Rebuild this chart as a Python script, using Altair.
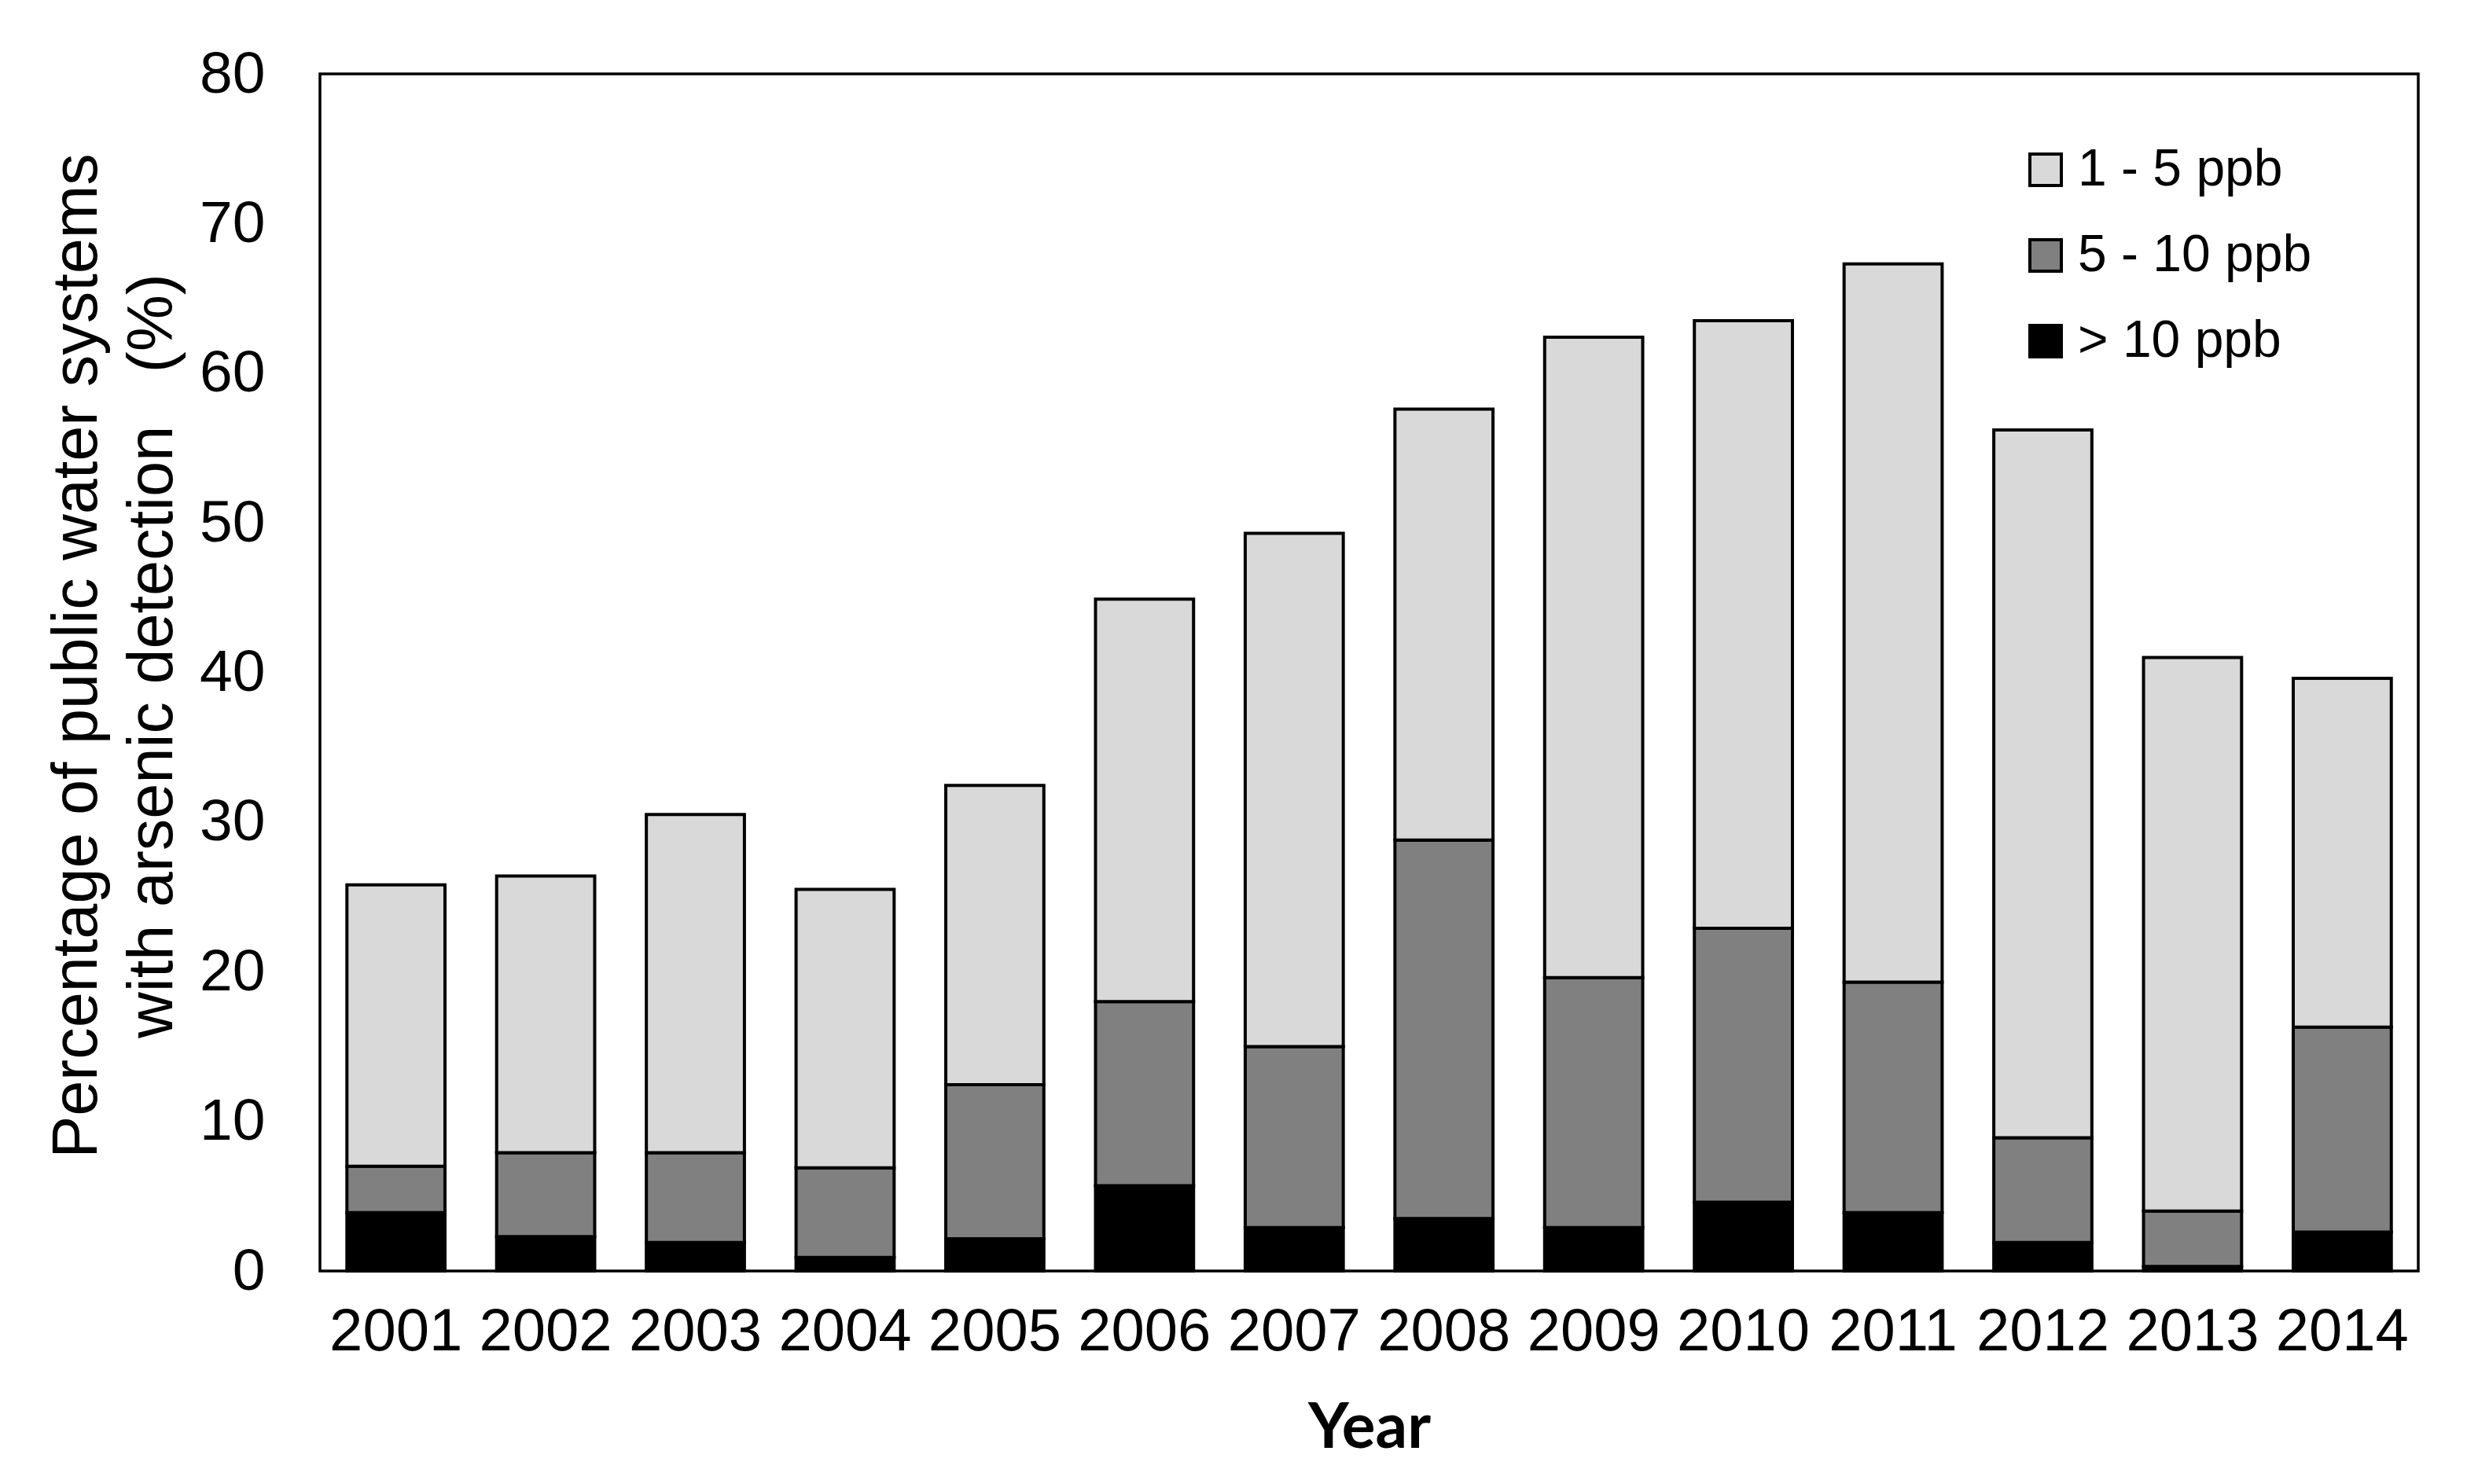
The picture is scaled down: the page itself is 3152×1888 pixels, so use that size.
import altair as alt
import pandas as pd

years = ["2001", "2002", "2003", "2004", "2005", "2006", "2007",
         "2008", "2009", "2010", "2011", "2012", "2013", "2014"]
over_10 = [3.9, 2.3, 1.9, 0.9, 2.15, 5.7, 2.9, 3.5, 2.9, 4.6, 3.9, 1.9, 0.3, 2.6]
from_5_to_10 = [3.1, 5.6, 6.0, 6.0, 10.3, 12.3, 12.1, 25.3, 16.7, 18.3, 15.4, 7.0, 3.7, 13.7]
from_1_to_5 = [18.8, 18.5, 22.6, 18.6, 20.0, 26.9, 34.3, 28.8, 42.8, 40.6, 48.0, 47.3, 37.0, 23.3]

series_names = ["1 - 5 ppb", "5 - 10 ppb", "> 10 ppb"]
series_colors = ["#d9d9d9", "#808080", "#000000"]
stack_rank = {"> 10 ppb": 0, "5 - 10 ppb": 1, "1 - 5 ppb": 2}

rows = []
for name, vals in [("> 10 ppb", over_10), ("5 - 10 ppb", from_5_to_10), ("1 - 5 ppb", from_1_to_5)]:
    for y, v in zip(years, vals):
        rows.append({"Year": y, "series": name, "value": v, "rank": stack_rank[name]})
df = pd.DataFrame(rows)

FONT = "Liberation Sans"

chart = alt.Chart(df).mark_bar(stroke="black", strokeWidth=4).encode(
    x=alt.X("Year:N", sort=years,
            scale=alt.Scale(paddingInner=0.345, paddingOuter=0.18),
            axis=alt.Axis(title="Year", labelAngle=0, labelFontSize=76, labelFont=FONT,
                          labelColor="black", ticks=False, domain=False, labelPadding=40,
                          titleFont="Lato", titleFontWeight="bold", titleFontSize=80,
                          titleColor="black", titlePadding=46)),
    y=alt.Y("value:Q", stack="zero",
            scale=alt.Scale(domain=[0, 80], nice=False),
            axis=alt.Axis(title=["Percentage of public water systems",
                                 "with arsenic detection\u00a0\u00a0 (%)"],
                          values=list(range(0, 81, 10)), labelFontSize=75, labelFont=FONT,
                          labelColor="black", ticks=False, domain=False, grid=False,
                          labelPadding=70, titleFont=FONT, titleFontSize=81,
                          titleFontWeight="normal", titleColor="black",
                          titleLineHeight=96, titlePadding=18, titleY=740)),
    color=alt.Color("series:N",
                    scale=alt.Scale(domain=series_names, range=series_colors),
                    legend=alt.Legend(title=None, orient="none", legendX=2162, legendY=89,
                                      symbolType="square", symbolSize=1600,
                                      symbolStrokeColor="black", symbolStrokeWidth=4,
                                      labelFontSize=66, labelFont=FONT, labelColor="black",
                                      labelLimit=1000,
                                      labelOffset=8, rowPadding=43, padding=0)),
    order=alt.Order("rank:Q", sort="ascending"),
).properties(
    width=2669, height=1523,
    background="white",
    autosize=alt.AutoSizeParams(type="none"),
    padding={"left": 399, "top": 86, "right": 60, "bottom": 250},
).configure_view(
    stroke="black", strokeWidth=3.5
)

chart.save("out.html", embed_options={"renderer": "svg", "actions": False})
